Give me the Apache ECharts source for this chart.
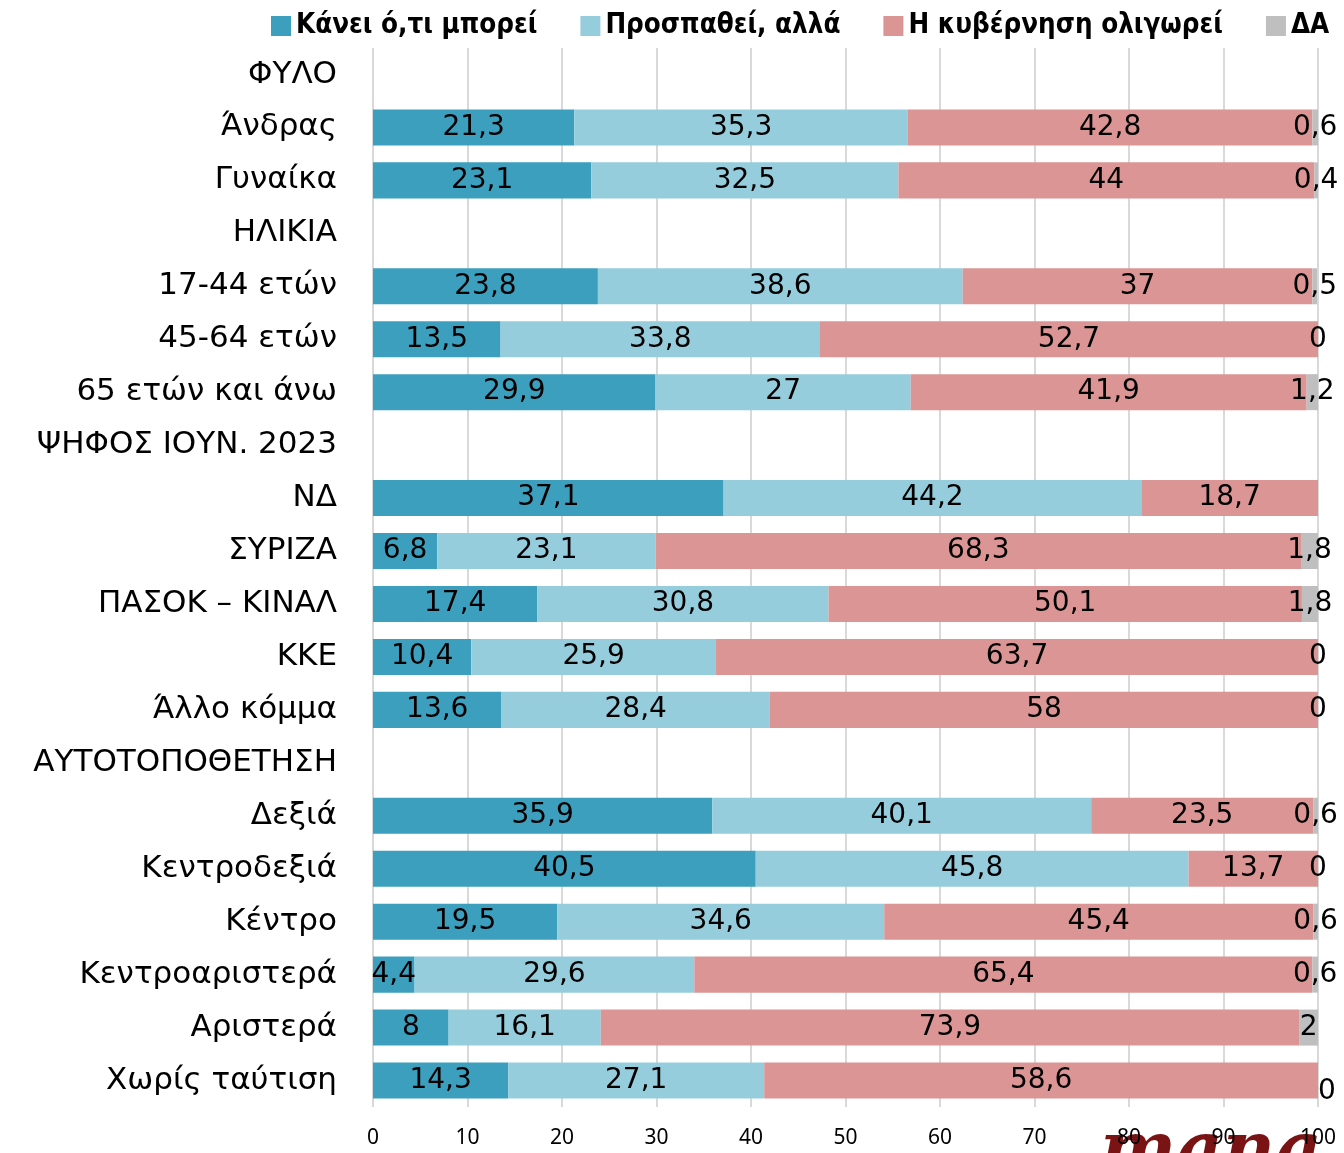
<!DOCTYPE html>
<html>
<head>
<meta charset="utf-8">
<script src="https://cdn.jsdelivr.net/npm/echarts@6/dist/echarts.min.js"></script>
<style>
html, body { margin: 0; padding: 0; background: #fff; }
#main { width: 1344px; height: 1153px; }
</style>
</head>
<body>
<div id="main"></div>
<script>
var categories = ['ΦΥΛΟ', 'Άνδρας', 'Γυναίκα', 'ΗΛΙΚΙΑ', '17-44 ετών', '45-64 ετών',
	'65 ετών και άνω', 'ΨΗΦΟΣ ΙΟΥΝ. 2023', 'ΝΔ', 'ΣΥΡΙΖΑ', 'ΠΑΣΟΚ – ΚΙΝΑΛ', 'ΚΚΕ',
	'Άλλο κόμμα', 'ΑΥΤΟΤΟΠΟΘΕΤΗΣΗ', 'Δεξιά', 'Κεντροδεξιά', 'Κέντρο',
	'Κεντροαριστερά', 'Αριστερά', 'Χωρίς ταύτιση'];

// null = section header (no bar)
var kanei = [null, 21.3, 23.1, null, 23.8, 13.5, 29.9, null, 37.1, 6.8, 17.4, 10.4,
	13.6, null, 35.9, 40.5, 19.5, 4.4, 8, 14.3];
var prospathei = [null, 35.3, 32.5, null, 38.6, 33.8, 27, null, 44.2, 23.1, 30.8, 25.9,
	28.4, null, 40.1, 45.8, 34.6, 29.6, 16.1, 27.1];
var oligorei = [null, 42.8, 44, null, 37, 52.7, 41.9, null, 18.7, 68.3, 50.1, 63.7,
	58, null, 23.5, 13.7, 45.4, 65.4, 73.9, 58.6];
var da = [null, 0.6, 0.4, null, 0.5, 0, 1.2, null, null, 1.8, 1.8, 0,
	0, null, 0.6, 0, 0.6, 0.6, 2, 0];

var xTicks = [0, 10, 20, 30, 40, 50, 60, 70, 80, 90, 100];

var chartDom = document.getElementById('main');
var myChart = echarts.init(chartDom, null, { renderer: 'canvas' });

function fmt(p) {
	if (p.value === null || p.value === undefined || p.value === '-') {
		return '';
	}
	return String(p.value).replace('.', ',');
}

var labelStyle = {
	show : true,
	position : 'inside',
	color : '#000',
	fontSize : 28,
	fontFamily : 'DejaVu Sans',
	formatter : fmt
};

function mkSeries(name, data, color) {
	return {
		name : name,
		type : 'bar',
		stack : 'total',
		barCategoryGap : '32%',
		data : data,
		itemStyle : { color : color },
		label : labelStyle,
		labelLayout : { hideOverlap : false },
		emphasis : { disabled : true }
	};
}

// the last "0" of the ΔΑ series sits a bit lower in the original
var daData = da.map(function(v, i) {
	if (i === da.length - 1) {
		return {
			value : v,
			label : {
				position : ['0%', '80%'],
				align : 'left',
				verticalAlign : 'middle',
				offset : [2, 0]
			}
		};
	}
	return v;
});

var option = {
	animation : false,
	backgroundColor : '#fff',
	legend : {
		top : 7,
		left : 266,
		width : 1100,
		itemWidth : 20,
		itemHeight : 20,
		itemGap : 43,
		icon : 'rect',
		textStyle : {
			fontSize : 27.5,
			fontWeight : 'bold',
			fontFamily : 'DejaVu Sans Condensed',
			color : '#000'
		},
		data : ['Κάνει ό,τι μπορεί', 'Προσπαθεί, αλλά', 'Η κυβέρνηση ολιγωρεί', 'ΔΑ']
	},
	grid : {
		left : 373,
		right : 26,
		top : 48,
		bottom : 46,
		containLabel : false
	},
	xAxis : {
		type : 'value',
		min : xTicks[0],
		max : xTicks[xTicks.length - 1],
		interval : 10,
		axisLine : { show : false },
		axisTick : { show : false },
		splitLine : { show : true, lineStyle : { color : '#d9d9d9', width : 2 } },
		axisLabel : {
			fontSize : 21,
			fontFamily : 'Noto Sans',
			color : '#000',
			margin : 21
		}
	},
	yAxis : {
		type : 'category',
		inverse : true,
		data : categories,
		axisLine : { show : false },
		axisTick : { show : false },
		axisLabel : {
			fontSize : 31,
			fontFamily : 'DejaVu Sans',
			color : '#000',
			margin : 36
		}
	},
	graphic : [{
		type : 'text',
		left : 1100,
		top : 1118,
		z : -1,
		style : {
			text : 'mana',
			font : 'italic bold 72px "DejaVu Serif"',
			fill : '#7a1414'
		}
	}],
	series : [
		mkSeries('Κάνει ό,τι μπορεί', kanei, '#3c9fbe'),
		mkSeries('Προσπαθεί, αλλά', prospathei, '#95cddd'),
		mkSeries('Η κυβέρνηση ολιγωρεί', oligorei, '#da9594'),
		mkSeries('ΔΑ', daData, '#bfbfbf')
	]
};

option && myChart.setOption(option);
</script>
</body>
</html>
